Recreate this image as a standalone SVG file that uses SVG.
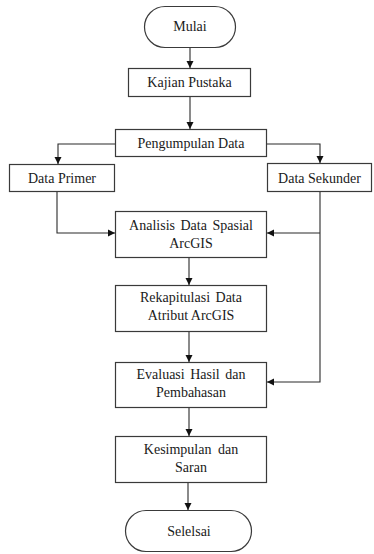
<svg xmlns="http://www.w3.org/2000/svg" width="374" height="554" viewBox="0 0 374 554">
<style>
.box{fill:#fff;stroke:#3a3a3a;stroke-width:1.2}
text{font-family:'Liberation Serif','Times New Roman','DejaVu Serif',serif;font-size:14px;fill:#1a1a1a;text-anchor:middle}
.c{fill:none;stroke:#2a2a2a;stroke-width:1.1}
</style>
<defs>
<marker id="ah" markerUnits="userSpaceOnUse" markerWidth="8" markerHeight="8" refX="7" refY="4" orient="auto">
<path d="M0,0.5 L7,4 L0,7.5 Z" fill="#111"/>
</marker>
</defs>
<rect width="374" height="554" fill="#fff"/>
<g id="connectors">
<line class="c" x1="190" y1="47" x2="190" y2="68" marker-end="url(#ah)"/>
<line class="c" x1="190" y1="97" x2="190" y2="129" marker-end="url(#ah)"/>
<polyline class="c" points="115,144 58,144 58,164" marker-end="url(#ah)"/>
<polyline class="c" points="267,144 320,144 320,163" marker-end="url(#ah)"/>
<polyline class="c" points="57,192 57,233 115,233" marker-end="url(#ah)"/>
<polyline class="c" points="320,192 320,382 267,382" marker-end="url(#ah)"/>
<line class="c" x1="320" y1="233" x2="267" y2="233" marker-end="url(#ah)"/>
<line class="c" x1="189" y1="258" x2="189" y2="285" marker-end="url(#ah)"/>
<line class="c" x1="189" y1="332" x2="189" y2="362" marker-end="url(#ah)"/>
<line class="c" x1="189" y1="408" x2="189" y2="436" marker-end="url(#ah)"/>
<line class="c" x1="188" y1="483" x2="188" y2="510" marker-end="url(#ah)"/>
</g>
<g id="mulai">
<rect class="box" x="144.5" y="6.5" width="91" height="41" rx="20.5"/>
<text x="190" y="31" font-family="Liberation Serif, serif">Mulai</text>
</g>
<g id="kajian">
<rect class="box" x="128.5" y="68.5" width="122" height="28"/>
<text x="189.5" y="87">Kajian Pustaka</text>
</g>
<g id="pengumpulan">
<rect class="box" x="115.5" y="129.5" width="151" height="27"/>
<text x="191" y="148">Pengumpulan Data</text>
</g>
<g id="primer">
<rect class="box" x="9.5" y="164.5" width="105" height="27"/>
<text x="62" y="183">Data Primer</text>
</g>
<g id="sekunder">
<rect class="box" x="267.5" y="163.5" width="104" height="28"/>
<text x="319.5" y="183">Data Sekunder</text>
</g>
<g id="analisis">
<rect class="box" x="115.5" y="211.5" width="151" height="46"/>
<text x="191" y="230" word-spacing="2">Analisis Data Spasial</text>
<text x="191" y="248">ArcGIS</text>
</g>
<g id="rekap">
<rect class="box" x="115.5" y="285.5" width="151" height="46"/>
<text x="191" y="302" word-spacing="2">Rekapitulasi Data</text>
<text x="191" y="320">Atribut ArcGIS</text>
</g>
<g id="evaluasi">
<rect class="box" x="115.5" y="362.5" width="151" height="45"/>
<text x="191" y="379" word-spacing="2">Evaluasi Hasil dan</text>
<text x="191" y="397">Pembahasan</text>
</g>
<g id="kesimpulan">
<rect class="box" x="115.5" y="436.5" width="151" height="46"/>
<text x="191" y="454" word-spacing="3">Kesimpulan dan</text>
<text x="191" y="472">Saran</text>
</g>
<g id="selesai">
<rect class="box" x="125.5" y="510.5" width="126" height="41" rx="20.5"/>
<text x="189" y="536">Selelsai</text>
</g>
</svg>
